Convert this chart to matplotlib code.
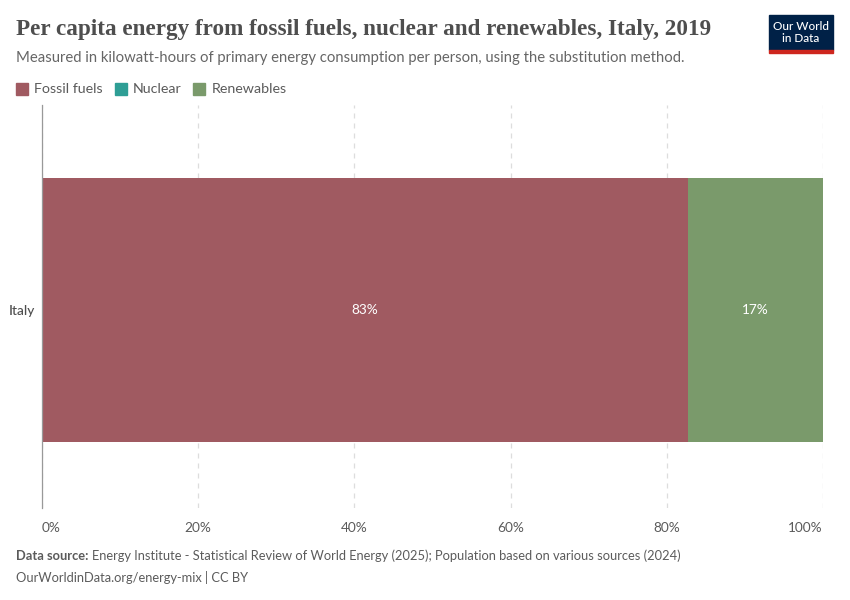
import matplotlib
matplotlib.use("Agg")
import matplotlib.pyplot as plt
import matplotlib.ticker as ticker
from matplotlib.patches import Rectangle

# data
country = "Italy"
sources = ["Fossil fuels", "Nuclear", "Renewables"]
shares = [82.7, 0.0, 17.3]
colors = ["#a05a61", "#2e9e95", "#7a9a6b"]
xticks = [0, 20, 40, 60, 80, 100]

plt.rcParams['font.family'] = ['Lato', 'DejaVu Sans']

fig = plt.figure(figsize=(8.5, 6), dpi=100)
ax = fig.add_axes([42/850, 1-508/600, (823-42)/850, (508-105)/600])

left = 0
for name, val, col in zip(sources, shares, colors):
    if val > 0:
        ax.barh(0, val, left=left, height=0.655, color=col, zorder=2)
        ax.text(left + val/2, 0, f"{val:.0f}%", ha='center', va='center',
                color='white', fontsize=9.8, zorder=3)
    left += val

ax.set_xlim(0, 100)
ax.set_ylim(-0.4925, 0.5075)
ax.set_xticks(xticks)
ax.xaxis.set_major_formatter(ticker.FuncFormatter(lambda v, p: f"{v:.0f}%"))
ax.tick_params(axis='x', length=0, labelsize=9.8, labelcolor='#5b5b5b', pad=10)
labels = ax.get_xticklabels()
labels[0].set_ha('left')
labels[-1].set_ha('right')
ax.set_yticks([0])
ax.set_yticklabels([country])
ax.tick_params(axis='y', length=0, labelsize=9.8, labelcolor='#4e4e4e', pad=5)
ax.get_yticklabels()[0].set_fontweight('medium')
ax.grid(axis='x', color='#dddddd', linestyle=(0, (4, 4)), linewidth=0.9, zorder=0)
for s in ['top', 'right', 'bottom']:
    ax.spines[s].set_visible(False)
ax.spines['left'].set_color('#999999')
ax.spines['left'].set_linewidth(0.9)

# title and subtitle
fig.text(16/850, 1-30/600, "Per capita energy from fossil fuels, nuclear and renewables, Italy, 2019",
         family=['Liberation Serif', 'DejaVu Serif'], fontsize=16.7, fontweight='bold',
         color='#4e4e4e', va='center')
fig.text(16/850, 1-58/600, "Measured in kilowatt-hours of primary energy consumption per person, using the substitution method.",
         fontsize=10.7, color='#666666', va='center')

# legend
lx = 16
ly = 1-89/600
for name, col in zip(sources, colors):
    fig.patches.append(Rectangle((lx/850, ly-6/600), 12/850, 12/600, color=col,
                                 transform=fig.transFigure, figure=fig))
    t = fig.text((lx+18)/850, ly, name, fontsize=10.3, color='#5b5b5b', va='center')
    fig.canvas.draw()
    w = t.get_window_extent().width
    lx = lx + 18 + w + 12

# logo
fig.patches.append(Rectangle((769/850, 1-50/600), 64/850, 35/600, color='#002147',
                             transform=fig.transFigure, figure=fig))
fig.patches.append(Rectangle((769/850, 1-52.5/600), 64/850, 2.5/600, color='#ce261e',
                             transform=fig.transFigure, figure=fig))
fig.text(801/850, 1-32.5/600, "Our World\nin Data", ha='center', va='center',
         color='white', fontsize=8.5, fontweight='medium', linespacing=1.05)

# footer
t1 = fig.text(16/850, 1-556/600, "Data source:", fontsize=9.3, color='#5b5b5b', va='center',
              fontweight='bold')
fig.canvas.draw()
w = t1.get_window_extent().width
fig.text((16+w+4)/850, 1-556/600,
         "Energy Institute - Statistical Review of World Energy (2025); Population based on various sources (2024)",
         fontsize=9.3, color='#5b5b5b', va='center')
fig.text(16/850, 1-577/600, "OurWorldinData.org/energy-mix | CC BY", fontsize=9.3,
         color='#5b5b5b', va='center')

fig.savefig("out.png", dpi=100)
